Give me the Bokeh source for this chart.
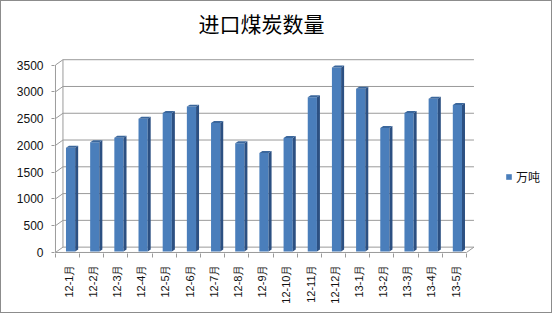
import math
from bokeh.plotting import figure
from bokeh.models import (Range1d, FixedTicker, ColumnDataSource, Legend, LegendItem, Label)
from bokeh.embed import file_html
from bokeh.resources import INLINE

# ---------------- data ----------------
categories = ["12-1月", "12-2月", "12-3月", "12-4月", "12-5月", "12-6月", "12-7月",
              "12-8月", "12-9月", "12-10月", "12-11月", "12-12月", "13-1月", "13-2月",
              "13-3月", "13-4月", "13-5月"]
values = [1943, 2044, 2130, 2486, 2593, 2711, 2406, 2025, 1843, 2124, 2888, 3443,
          3043, 2312, 2593, 2856, 2743]
y_ticks = [0, 500, 1000, 1500, 2000, 2500, 3000, 3500]
title_text = "进口煤炭数量"
series_name = "万吨"

# ---------------- pseudo-3D geometry (in data units) ----------------
DX, DY = 0.31, 100          # back wall offset
BAR_L, BAR_R = 0.435, 0.815  # front face extent within a category
SDX, SDY = 0.124, 37         # bar depth
FACE_OFF, BASE = 13, 20

n = len(categories)
lefts = [i + BAR_L for i in range(n)]
rights = [i + BAR_R for i in range(n)]
tops = [v + FACE_OFF for v in values]
bottoms = [BASE] * n
side_xs = [[r, r + SDX, r + SDX, r] for r in rights]
side_ys = [[BASE, BASE + SDY, t + SDY, t] for t in tops]
cap_xs = [[l, r, r + SDX, l + SDX] for l, r in zip(lefts, rights)]
cap_ys = [[t, t, t + SDY, t + SDY] for t in tops]

GRID = "#9a9a9a"

p = figure(width=552, height=313, output_backend="svg", toolbar_location=None,
           x_range=Range1d(-0.04, 20.6), y_range=Range1d(-19, 4687))
p.styles = {"border": "1px solid #8c8c8c"}
p.min_border_left = 53
p.min_border_right = 0
p.min_border_top = 0
p.min_border_bottom = 61
p.outline_line_color = None
p.xgrid.visible = False
p.ygrid.visible = False
p.background_fill_color = "white"
p.border_fill_color = "white"

# back wall gridlines with slanted left-wall segments
grid_xs = [[0, DX, n + DX] for v in y_ticks]
grid_ys = [[v, v + DY, v + DY] for v in y_ticks]
p.multi_line(grid_xs, grid_ys, line_color=GRID, line_width=1)
# back wall left edge, front axis line, floor edges
p.multi_line([[DX, DX], [0, 0], [0, n, n + DX]],
             [[DY, y_ticks[-1] + DY], [0, y_ticks[-1]], [0, 0, DY]],
             line_color=GRID, line_width=1)

# bars
src = ColumnDataSource(dict(left=lefts, right=rights, top=tops, bottom=bottoms))
front = p.quad(left="left", right="right", top="top", bottom="bottom", source=src,
               fill_color="#4A7EBB", line_color=None)
p.patches(side_xs, side_ys, fill_color="#2C5082", line_color=None)
p.patches(cap_xs, cap_ys, fill_color="#3B679C", line_color=None)

# axes
xa = p.xaxis[0]
xa.ticker = FixedTicker(ticks=[i + 0.55 for i in range(n)], minor_ticks=list(range(n + 1)))
xa.major_label_overrides = {i + 0.55: c for i, c in enumerate(categories)}
xa.major_label_orientation = math.pi / 2
xa.axis_line_color = None
xa.major_tick_line_color = None
xa.minor_tick_line_color = GRID
xa.minor_tick_out = 4
xa.minor_tick_in = 0
xa.major_label_standoff = 5
xa.major_label_text_font = "Liberation Sans"
xa.major_label_text_font_size = "11px"
xa.major_label_text_color = "#111111"

ya = p.yaxis[0]
ya.ticker = FixedTicker(ticks=y_ticks)
ya.axis_line_color = None
ya.major_tick_line_color = GRID
ya.major_tick_out = 3
ya.major_tick_in = 0
ya.minor_tick_line_color = None
ya.major_label_standoff = 8
ya.major_label_text_font = "Liberation Sans"
ya.major_label_text_font_size = "12px"
ya.major_label_text_color = "#111111"

# title (inside the enlarged frame)
p.add_layout(Label(x=207, y=231, x_units="screen", y_units="screen", text=title_text,
                   text_font="Noto Sans CJK SC", text_font_size="21px",
                   text_align="center", text_baseline="middle", text_color="#000000"))

# legend
legend = Legend(items=[LegendItem(label=series_name, renderers=[front])],
                location=(451, 68), orientation="vertical",
                glyph_width=7, glyph_height=7, label_height=14, label_standoff=4,
                label_text_font="Noto Sans CJK SC", label_text_font_size="12px",
                label_text_color="#111111", padding=0, margin=0, spacing=0,
                border_line_color=None, background_fill_alpha=0)
p.add_layout(legend, "center")

open("out.html", "w").write(file_html(p, INLINE))
